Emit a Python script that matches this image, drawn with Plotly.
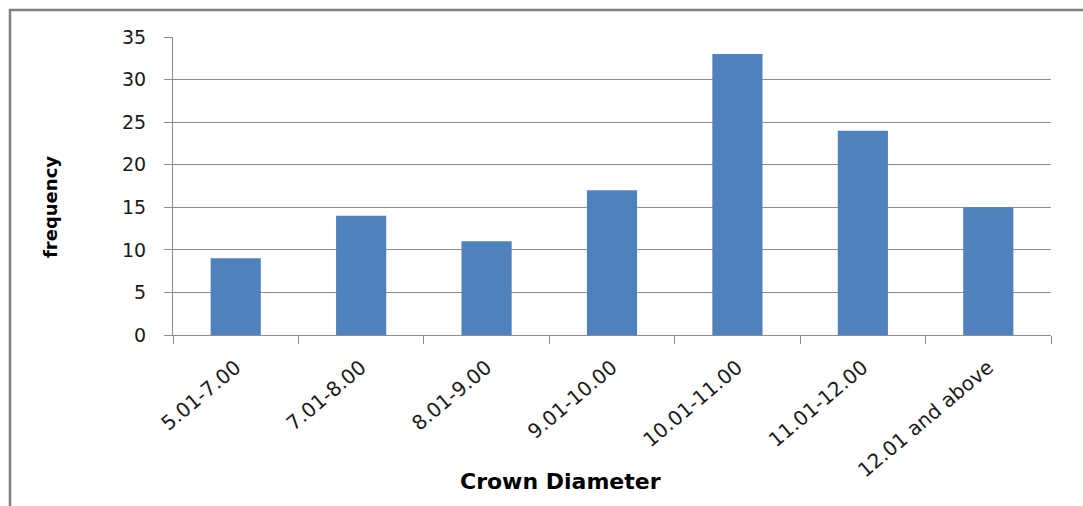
import plotly.graph_objects as go

categories = ["5.01-7.00", "7.01-8.00", "8.01-9.00", "9.01-10.00", "10.01-11.00", "11.01-12.00", "12.01 and above"]
frequency = [9, 14, 11, 17, 33, 24, 15]
y_ticks = [0, 5, 10, 15, 20, 25, 30, 35]

W, H = 1083, 506
L, R, T, B = 173, 1051, 37, 335

def px(x):
    return (x - L) / (R - L)

def py(y):
    return (B - y) / (B - T)

fig = go.Figure(go.Bar(
    x=categories, y=frequency,
    marker=dict(color="#4F81BD", line=dict(width=0)),
    width=0.4,
))

FONT = "DejaVu Sans, Liberation Sans, sans-serif"
fig.update_layout(
    width=W, height=H,
    margin=dict(l=L, r=W - R, t=T, b=H - B, autoexpand=False),
    paper_bgcolor="white", plot_bgcolor="white",
    font=dict(family=FONT, size=15, color="black"),
    showlegend=False,
    bargap=0.6,
)
fig.update_xaxes(
    type="category", tickson="boundaries", ticks="outside", ticklen=8, tickcolor="#8c8c8c",
    showline=True, linecolor="#8c8c8c", linewidth=1, showgrid=False,
    tickangle=-40, tickfont=dict(family=FONT, size=20, color="#1a1a1a"), ticklabelstandoff=12,
)
fig.update_yaxes(
    range=[0, 35], tickvals=y_ticks, ticks="outside", ticklen=8, tickcolor="#8c8c8c",
    showline=True, linecolor="#8c8c8c", linewidth=1,
    showgrid=True, gridcolor="#8c8c8c", gridwidth=1, zeroline=False,
    tickfont=dict(family=FONT, size=19, color="#1a1a1a"), ticklabelstandoff=14,
)

fig.add_annotation(text="<b>Crown Diameter</b>", x=px(560), y=py(481), xref="paper", yref="paper",
                   showarrow=False, font=dict(family=FONT, size=22, color="black"),
                   xanchor="center", yanchor="middle")
fig.add_annotation(text="<b>frequency</b>", x=px(50), y=py(207), xref="paper", yref="paper",
                   showarrow=False, font=dict(family=FONT, size=18, color="black"), textangle=-90,
                   xanchor="center", yanchor="middle")

# chart-area border (left and top edges visible)
fig.add_shape(type="path", xref="paper", yref="paper",
              path=f"M {px(10)} {py(520)} L {px(10)} {py(10)} L {px(1100)} {py(10)}",
              line=dict(color="#7f7f7f", width=2.5))

fig.write_html("out.html", config={"displayModeBar": False},
               post_script="document.body.style.margin='0';document.body.style.padding='0';")
